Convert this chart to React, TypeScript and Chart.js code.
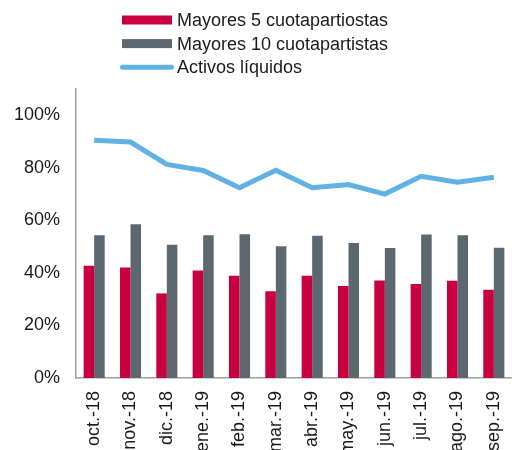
import React, { useEffect, useRef } from "react";
import { Chart, registerables } from "chart.js";

Chart.register(...registerables);

const categories = ["oct.-18", "nov.-18", "dic.-18", "ene.-19", "feb.-19", "mar.-19", "abr.-19", "may.-19", "jun.-19", "jul.-19", "ago.-19", "sep.-19"];
const mayores5 = [42.7, 42.1, 32.2, 40.9, 38.9, 33.0, 38.9, 35.0, 37.1, 35.8, 37.0, 33.6];
const mayores10 = [54.3, 58.5, 50.7, 54.3, 54.7, 50.1, 54.1, 51.4, 49.5, 54.6, 54.3, 49.6];
const activosLiquidos = [90.5, 89.8, 81.3, 79.0, 72.4, 79.1, 72.4, 73.6, 70.0, 76.8, 74.5, 76.4];
const seriesNames = ["Mayores 5 cuotapartiostas", "Mayores 10 cuotapartistas", "Activos líquidos"];

const RED = "#C8003F";
const GRAY = "#5C6870";
const BLUE = "#62B1E5";
const FONT = '"Liberation Sans", Arial, sans-serif';

const legendPlugin = {
  id: "stackedLegend",
  afterDraw(chart: any) {
    const ctx = chart.ctx;
    ctx.save();
    ctx.font = `18px ${FONT}`;
    ctx.textBaseline = "middle";
    ctx.textAlign = "left";
    chart.data.datasets.forEach((ds: any, i: number) => {
      const y = 20 + i * 23.6;
      if (ds.type === "line") {
        ctx.strokeStyle = ds.borderColor;
        ctx.lineWidth = 5;
        ctx.lineCap = "round";
        ctx.beginPath();
        ctx.moveTo(122.5, y);
        ctx.lineTo(171.5, y);
        ctx.stroke();
      } else {
        ctx.fillStyle = ds.backgroundColor;
        ctx.fillRect(122, y - 4.5, 50, 9);
      }
      ctx.fillStyle = "#1a1a1a";
      ctx.fillText(ds.label, 177, y + 1);
    });
    ctx.restore();
  },
};

export default function App() {
  const ref = useRef<HTMLCanvasElement | null>(null);
  useEffect(() => {
    document.body.style.margin = "0";
    if (!ref.current) return;
    const chart = new Chart(ref.current, {
      type: "bar",
      data: {
        labels: categories,
        datasets: [
          {
            type: "bar",
            label: seriesNames[0],
            data: mayores5,
            backgroundColor: RED,
            categoryPercentage: 0.58,
            barPercentage: 1,
            order: 1,
          },
          {
            type: "bar",
            label: seriesNames[1],
            data: mayores10,
            backgroundColor: GRAY,
            categoryPercentage: 0.58,
            barPercentage: 1,
            order: 1,
          },
          {
            type: "line",
            label: seriesNames[2],
            data: activosLiquidos,
            borderColor: BLUE,
            backgroundColor: BLUE,
            borderWidth: 5,
            pointRadius: 0,
            tension: 0,
            order: 0,
          } as any,
        ],
      },
      options: {
        responsive: false,
        animation: false,
        layout: { padding: { top: 89, right: 0, left: 0, bottom: 0 } },
        plugins: {
          legend: { display: false },
          tooltip: { enabled: false },
        },
        scales: {
          x: {
            grid: { display: false, drawTicks: false },
            border: { display: true, color: "#A0A0A0", width: 1.5 },
            ticks: {
              color: "#1a1a1a",
              font: { family: FONT, size: 18 },
              minRotation: 90,
              maxRotation: 90,
              padding: 13,
              autoSkip: false,
            },
            afterFit(scale: any) {
              scale.height = 72;
              scale.paddingLeft = 0;
              scale.paddingRight = 0;
            },
          },
          y: {
            min: 0,
            max: 110,
            grid: { display: false, drawTicks: false },
            border: { display: true, color: "#A0A0A0", width: 1.5 },
            ticks: {
              stepSize: 20,
              color: "#1a1a1a",
              font: { family: FONT, size: 18 },
              padding: 16,
              callback: (v: any) => (Number(v) > 100 ? "" : `${v}%`),
            },
            afterFit(scale: any) {
              scale.width = 76;
            },
          },
        },
      },
      plugins: [legendPlugin],
    });
    return () => chart.destroy();
  }, []);
  return (
    <div style={{ width: 512, height: 450 }}>
      <canvas ref={ref} width={512} height={450} />
    </div>
  );
}
